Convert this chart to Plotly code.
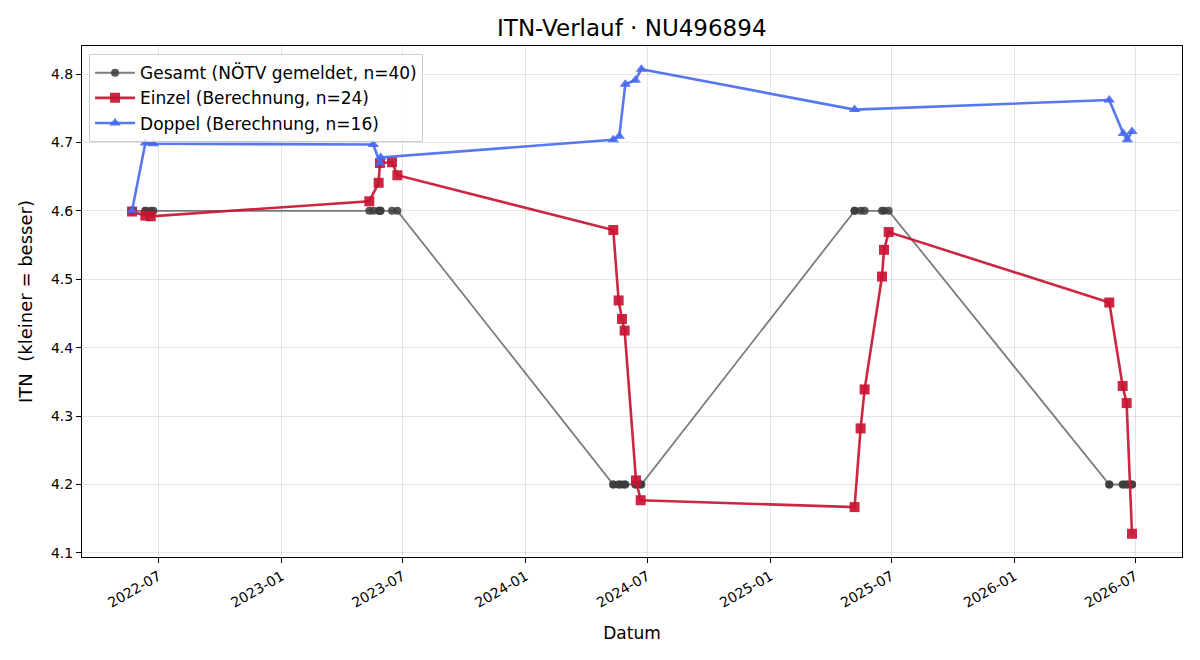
import pandas as pd
import plotly.graph_objects as go

# ---------------- data ----------------
einzel_dates = [
    "2022-05-22", "2022-06-11", "2022-06-19",
    "2023-05-12", "2023-05-26", "2023-05-28", "2023-06-15", "2023-06-23",
    "2024-05-11", "2024-05-19", "2024-05-24", "2024-05-28", "2024-06-14", "2024-06-21",
    "2025-05-07", "2025-05-16", "2025-05-22", "2025-06-17", "2025-06-20", "2025-06-27",
    "2026-05-23", "2026-06-12", "2026-06-18", "2026-06-26",
]
einzel_itn = [
    4.599, 4.593, 4.592,
    4.614, 4.641, 4.670, 4.671, 4.652,
    4.572, 4.469, 4.442, 4.425, 4.206, 4.177,
    4.167, 4.282, 4.339, 4.504, 4.543, 4.569,
    4.466, 4.344, 4.319, 4.128,
]

doppel_dates = [
    "2022-05-22", "2022-06-11", "2022-06-23",
    "2023-05-18", "2023-05-28", "2023-05-29",
    "2024-05-11", "2024-05-20", "2024-05-29", "2024-06-13", "2024-06-22",
    "2025-05-07",
    "2026-05-23", "2026-06-13", "2026-06-19", "2026-06-26",
]
doppel_itn = [
    4.600, 4.699, 4.698,
    4.697, 4.670, 4.678,
    4.704, 4.709, 4.785, 4.791, 4.807,
    4.748,
    4.762, 4.713, 4.704, 4.716,
]

gesamt_dates = [
    "2022-05-22", "2022-05-22", "2022-06-11", "2022-06-11", "2022-06-19", "2022-06-23",
    "2023-05-12", "2023-05-18", "2023-05-26", "2023-05-28", "2023-05-28", "2023-05-29",
    "2023-06-15", "2023-06-23",
    "2024-05-11", "2024-05-11", "2024-05-19", "2024-05-20", "2024-05-24", "2024-05-28",
    "2024-05-29", "2024-06-13", "2024-06-14", "2024-06-21", "2024-06-22",
    "2025-05-07", "2025-05-07", "2025-05-16", "2025-05-22", "2025-06-17", "2025-06-20",
    "2025-06-27",
    "2026-05-23", "2026-05-23", "2026-06-12", "2026-06-13", "2026-06-18", "2026-06-19",
    "2026-06-26", "2026-06-26",
]
gesamt_itn = [
    4.6, 4.6, 4.6, 4.6, 4.6, 4.6,
    4.6, 4.6, 4.6, 4.6, 4.6, 4.6, 4.6, 4.6,
    4.2, 4.2, 4.2, 4.2, 4.2, 4.2, 4.2, 4.2, 4.2, 4.2, 4.2,
    4.6, 4.6, 4.6, 4.6, 4.6, 4.6, 4.6,
    4.2, 4.2, 4.2, 4.2, 4.2, 4.2, 4.2, 4.2,
]

title_text = "ITN-Verlauf · NU496894"
name_gesamt = "Gesamt (NÖTV gemeldet, n=40)"
name_einzel = "Einzel (Berechnung, n=24)"
name_doppel = "Doppel (Berechnung, n=16)"

# ---------------- figure ----------------
FONT = "DejaVu Sans, Verdana, sans-serif"

fig = go.Figure()
fig.add_trace(go.Scatter(
    x=pd.to_datetime(gesamt_dates), y=gesamt_itn, mode="lines+markers", name=name_gesamt,
    line=dict(color="rgba(70,70,70,0.7)", width=1.8),
    marker=dict(symbol="circle", size=8, color="rgba(60,60,60,0.85)"),
))
fig.add_trace(go.Scatter(
    x=pd.to_datetime(einzel_dates), y=einzel_itn, mode="lines+markers", name=name_einzel,
    line=dict(color="rgba(200,20,50,0.92)", width=2.6),
    marker=dict(symbol="square", size=10, color="rgba(200,20,50,0.92)"),
))
fig.add_trace(go.Scatter(
    x=pd.to_datetime(doppel_dates), y=doppel_itn, mode="lines+markers", name=name_doppel,
    line=dict(color="rgba(70,105,240,0.9)", width=2.6),
    marker=dict(symbol="triangle-up", size=10, color="rgba(70,105,240,0.9)"),
))

# axis ranges with 5% margins (matplotlib style)
all_x = pd.to_datetime(gesamt_dates + einzel_dates + doppel_dates)
xmin, xmax = all_x.min(), all_x.max()
xpad = (xmax - xmin) * 0.05
all_y = gesamt_itn + einzel_itn + doppel_itn
ymin, ymax = min(all_y), max(all_y)
ypad = (ymax - ymin) * 0.05

axis_common = dict(
    showline=True, linecolor="black", linewidth=1, mirror=True,
    ticks="outside", ticklen=5, tickcolor="black", tickwidth=1,
    showgrid=True, gridcolor="rgba(0,0,0,0.1)", gridwidth=1,
    zeroline=False, tickfont=dict(size=14, color="black", family=FONT),
)

fig.update_layout(
    width=1200, height=660,
    margin=dict(l=82, r=18, t=46, b=103),
    paper_bgcolor="white", plot_bgcolor="white",
    font=dict(family=FONT, color="black"),
    title=dict(text=title_text, x=0.5265, xanchor="center", y=0.958, yanchor="middle",
               font=dict(size=23, color="black", family=FONT)),
    xaxis=dict(
        **axis_common,
        range=[xmin - xpad, xmax + xpad],
        tick0="2022-01-01", dtick="M6", tickformat="%Y-%m", tickangle=-30,
        title=dict(text="Datum", font=dict(size=17, family=FONT), standoff=17),
    ),
    yaxis=dict(
        **axis_common,
        range=[ymin - ypad, ymax + ypad],
        dtick=0.1, tickformat=".1f",
        title=dict(text="ITN\u00a0 (kleiner = besser)", font=dict(size=18, family=FONT), standoff=13),
    ),
    legend=dict(
        x=0.0064, y=0.984, xanchor="left", yanchor="top",
        bgcolor="rgba(255,255,255,0.8)", bordercolor="#cccccc", borderwidth=1,
        font=dict(size=17, family=FONT, color="black"),
        itemwidth=40, tracegroupgap=0,
    ),
    showlegend=True,
)

fig.write_html("out.html")
